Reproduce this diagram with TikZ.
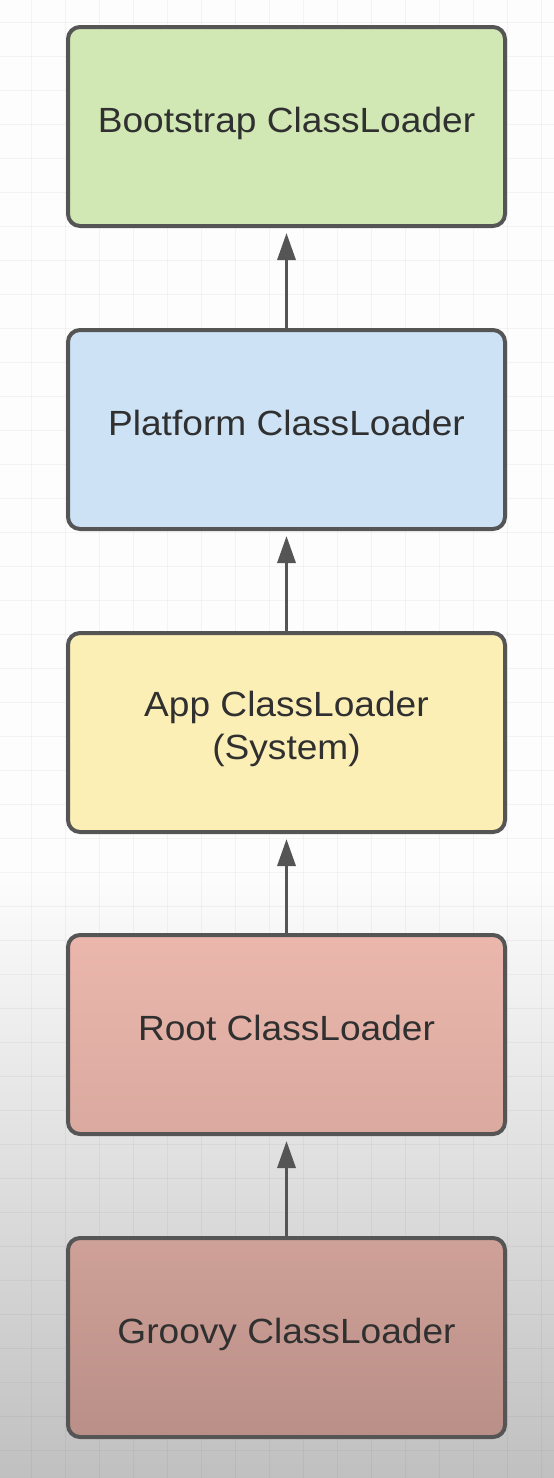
\documentclass[tikz,border=0pt]{standalone}
\usepackage{fontspec}
\setmainfont{Liberation Sans}[FakeStretch=1.06]
\usetikzlibrary{arrows.meta}
\definecolor{gridc}{HTML}{000000}
\definecolor{strokec}{HTML}{555555}
\definecolor{textc}{HTML}{303030}
\definecolor{fgreen}{HTML}{D1E8B4}
\definecolor{fblue}{HTML}{CDE3F5}
\definecolor{fyellow}{HTML}{FCEFB6}
\definecolor{froottop}{HTML}{EBB7AC}
\definecolor{frootbot}{HTML}{DAA99F}
\definecolor{fgrtop}{HTML}{CFA198}
\definecolor{fgrbot}{HTML}{B98F87}
\definecolor{bgtop}{HTML}{FDFDFD}
\definecolor{bgbot}{HTML}{C0C0C0}
\tikzset{
  loaderbox/.style={draw=strokec, line width=4pt, rounded corners=12pt,
    minimum width=437pt, minimum height=199pt, inner sep=0pt},
  loadertext/.style={text=textc, font=\fontsize{35}{42}\selectfont, inner sep=0pt, anchor=base},
  uparrow/.style={draw=strokec, line width=3.3pt,
    -{Triangle[length=27pt,width=18pt]}, shorten >=5pt}
}
\begin{document}
\begin{tikzpicture}[x=1pt,y=-1pt]
\useasboundingbox (0,0) rectangle (554,1478);
% background
\fill[bgtop] (0,0) rectangle (554,870);
\shade[top color=bgtop, bottom color=bgbot] (0,869.5) rectangle (554,1478);
% grid
\foreach \gx in {31,65,...,554} \draw[gridc, opacity=0.04, line width=1pt] (\gx,0) -- (\gx,1478);
\foreach \gy in {22,56,...,1478} \draw[gridc, opacity=0.04, line width=1pt] (0,\gy) -- (554,\gy);
% boxes
\node[loaderbox, fill=fgreen] (b1) at (286.5,126.5) {};
\node[loaderbox, fill=fblue] (b2) at (286.5,429.5) {};
\node[loaderbox, fill=fyellow] (b3) at (286.5,732.5) {};
\node[loaderbox, top color=froottop, bottom color=frootbot] (b4) at (286.5,1034.5) {};
\node[loaderbox, top color=fgrtop, bottom color=fgrbot] (b5) at (286.5,1337.5) {};
% texts
\node[loadertext] (t1) at (286.5,132) {Bootstrap ClassLoader};
\node[loadertext] (t2) at (286.5,435) {Platform ClassLoader};
\node[loadertext] (t3a) at (286.5,716) {App ClassLoader};
\node[loadertext] (t3b) at (286.5,759) {(System)};
\node[loadertext] (t4) at (286.5,1040) {Root ClassLoader};
\node[loadertext] (t5) at (286.5,1343) {Groovy ClassLoader};
% arrows
\draw[uparrow] (b2.north) -- (b1.south);
\draw[uparrow] (b3.north) -- (b2.south);
\draw[uparrow] (b4.north) -- (b3.south);
\draw[uparrow] (b5.north) -- (b4.south);
\end{tikzpicture}
\end{document}
